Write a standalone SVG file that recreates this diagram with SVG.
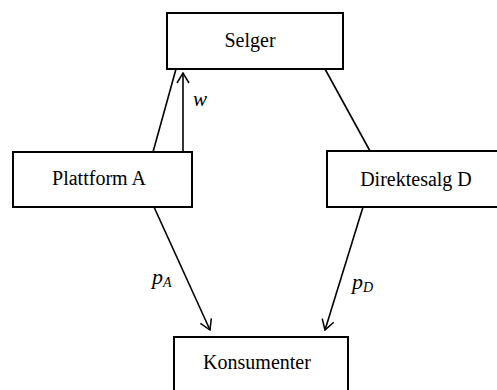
<svg xmlns="http://www.w3.org/2000/svg" width="497" height="390" viewBox="0 0 497 390">
<defs>
<marker id="ah" markerWidth="12" markerHeight="14" refX="11" refY="7" orient="auto" markerUnits="userSpaceOnUse">
<path d="M1,1 L11,7 L1,13" fill="none" stroke="#000" stroke-width="1.5"/>
</marker>
<style>
.box{fill:#fff;stroke:#000;stroke-width:2}
.lbl{font-family:"Liberation Serif","Times New Roman",serif;font-size:20px;fill:#000;text-anchor:middle}
.math{font-family:"Liberation Serif","Times New Roman",serif;font-style:italic;fill:#000}
.ln{stroke:#000;stroke-width:1.6;fill:none}
</style>
</defs>
<rect width="497" height="390" fill="#fff"/>
<g id="connectors">
<line class="ln" x1="176" y1="69" x2="153" y2="152"/>
<line class="ln" x1="183" y1="152" x2="183" y2="73" marker-end="url(#ah)"/>
<line class="ln" x1="325" y1="69" x2="370" y2="151"/>
<line class="ln" x1="154" y1="207" x2="210" y2="330" marker-end="url(#ah)"/>
<line class="ln" x1="363" y1="207" x2="325" y2="330" marker-end="url(#ah)"/>
<text class="math" x="193" y="106" font-size="21">w</text>
<text class="math" x="152" y="284" font-size="22">p<tspan font-size="14" dy="3">A</tspan></text>
<text class="math" x="352" y="289" font-size="22">p<tspan font-size="14" dy="3">D</tspan></text>
</g>
<g id="selger">
<rect class="box" x="167" y="13" width="176" height="56"/>
<text class="lbl" x="250" y="47">Selger</text>
</g>
<g id="plattform">
<rect class="box" x="13" y="152" width="179" height="55"/>
<text class="lbl" x="99" y="185">Plattform A</text>
</g>
<g id="direktesalg">
<rect class="box" x="327" y="151" width="180" height="56"/>
<text class="lbl" x="416" y="186">Direktesalg D</text>
</g>
<g id="konsumenter">
<rect class="box" x="174" y="337" width="174" height="60"/>
<text class="lbl" x="257" y="369">Konsumenter</text>
</g>
</svg>
